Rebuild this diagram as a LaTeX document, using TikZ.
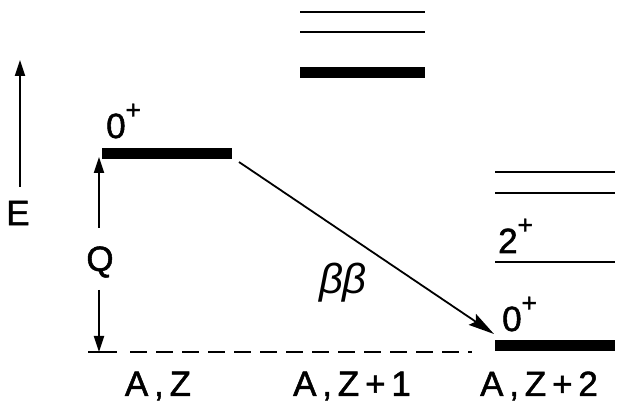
\documentclass[tikz,border=0pt]{standalone}
\usepackage{fontspec}
\setmainfont{Liberation Sans}
\newfontfamily\lblfont{Liberation Sans}[BoldFont=Liberation Sans, BoldFeatures={FakeBold=1.5}]
\usetikzlibrary{arrows.meta}
\newcommand{\spinsup}[1]{\raisebox{0.55em}{\fontsize{26}{28}\selectfont #1}}
\begin{document}
\begin{tikzpicture}[x=1pt,y=-1pt,
  thinlevel/.style={line width=2.5pt},
  thicklevel/.style={line width=11pt},
  lbl/.style={font=\lblfont\fontsize{35}{40}\selectfont\bfseries, inner sep=0pt},
  arr/.style={line width=1.8pt,-{Triangle[length=16pt,width=10pt]}},
  bigarr/.style={line width=1.8pt,-{Stealth[length=26pt,width=13pt,inset=4pt]}}]
\useasboundingbox (0,0) rectangle (622,406);
% levels of A,Z
\coordinate (L0a) at (102,154); \coordinate (L0b) at (232,154);
\draw[thicklevel] (L0a) -- (L0b);
% levels of A,Z+1
\coordinate (M0a) at (300,73);  \coordinate (M0b) at (425,73);
\coordinate (M1a) at (300,32);  \coordinate (M1b) at (425,32);
\coordinate (M2a) at (300,12);  \coordinate (M2b) at (425,12);
\draw[thicklevel] (M0a) -- (M0b);
\draw[thinlevel] (M1a) -- (M1b);
\draw[thinlevel] (M2a) -- (M2b);
% levels of A,Z+2
\coordinate (R0a) at (495,346); \coordinate (R0b) at (615,346);
\coordinate (R1a) at (495,262); \coordinate (R1b) at (615,262);
\coordinate (R2a) at (495,193); \coordinate (R2b) at (615,193);
\coordinate (R3a) at (495,172); \coordinate (R3b) at (615,172);
\draw[thicklevel] (R0a) -- (R0b);
\draw[thinlevel] (R1a) -- (R1b);
\draw[thinlevel] (R2a) -- (R2b);
\draw[thinlevel] (R3a) -- (R3b);
% baseline
\coordinate (B0) at (88,352); \coordinate (B1) at (117,352);
\coordinate (B2) at (130,352); \coordinate (B3) at (472,352);
\draw[line width=1.8pt] (B0) -- (B1);
\draw[line width=1.8pt, dash pattern=on 17pt off 9pt] (B2) -- (B3);
% E axis
\coordinate (Ebot) at (20,187); \coordinate (Etop) at (20,60);
\draw[arr] (Ebot) -- (Etop);
\node[lbl] (E) at (18,213) {E};
% Q
\node[lbl] (Q) at (100,262) {Q};
\coordinate (Qu0) at (99,228); \coordinate (Qu1) at (99,157);
\coordinate (Qd0) at (99,290); \coordinate (Qd1) at (99,352);
\draw[arr] (Qu0) -- (Qu1);
\draw[arr] (Qd0) -- (Qd1);
% beta beta arrow
\coordinate (bbS) at (239,162); \coordinate (bbE) at (494,334);
\draw[bigarr] (bbS) -- (bbE);
\node[font=\fontsize{42}{46}\selectfont, inner sep=0pt] (bb) at (343,283) {\textit{ββ}};
% spin labels
\node[lbl, anchor=base west] (s0L) at (106,138) {0\spinsup{+}};
\node[lbl, anchor=base west] (s2R) at (498,253) {2\spinsup{+}};
\node[lbl, anchor=base west] (s0R) at (502,331) {0\spinsup{+}};
% nucleus labels
\node[lbl] (n0) at (158,386) {A\,,\,Z};
\node[lbl] (n1) at (352,386) {A\,,\,Z\,+\,1};
\node[lbl] (n2) at (539,386) {A\,,\,Z\,+\,2};
\end{tikzpicture}
\end{document}
